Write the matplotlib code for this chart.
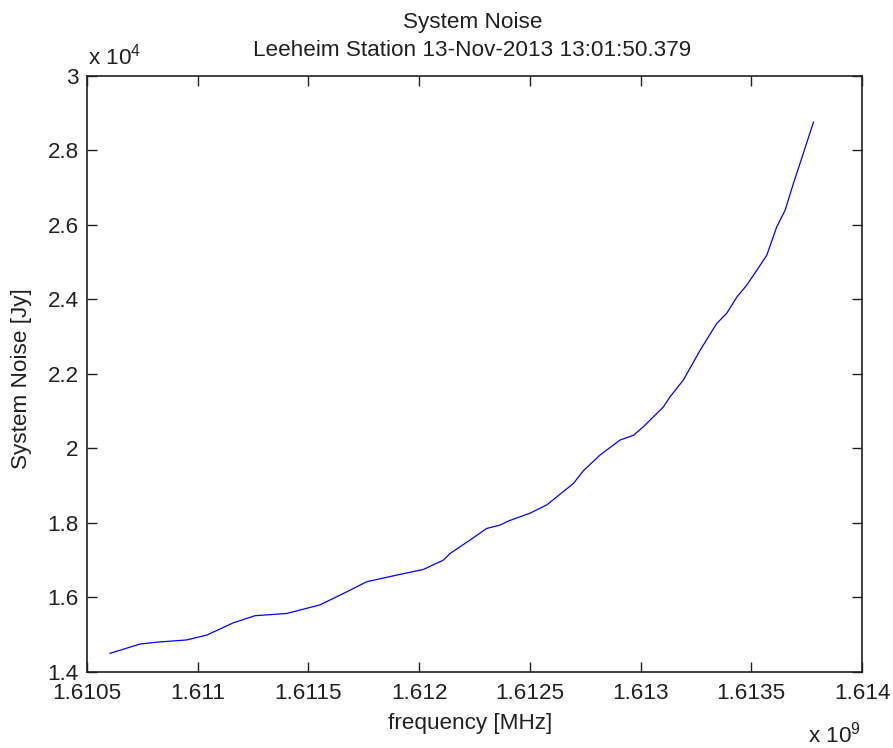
import matplotlib
matplotlib.use("Agg")
import matplotlib.pyplot as plt
from matplotlib.ticker import FuncFormatter, MultipleLocator

# data (frequency in units of 1e9 Hz, noise in units of 1e4 Jy)
freq_e9 = [1.610604, 1.610739, 1.610815, 1.610950, 1.611041, 1.611161, 1.611259,
           1.611402, 1.611552, 1.611673, 1.611763, 1.611899, 1.612019, 1.612109,
           1.612140, 1.612230, 1.612305, 1.612365, 1.612403, 1.612501, 1.612576,
           1.612622, 1.612697, 1.612742, 1.612817, 1.612907, 1.612968, 1.613013,
           1.613103, 1.613133, 1.613193, 1.613269, 1.613344, 1.613389, 1.613435,
           1.613480, 1.613540, 1.613570, 1.613615, 1.613653, 1.613690, 1.613720,
           1.613781]
noise_e4 = [1.450, 1.475, 1.480, 1.486, 1.499, 1.532, 1.551,
            1.557, 1.580, 1.615, 1.642, 1.660, 1.675, 1.700,
            1.718, 1.754, 1.785, 1.794, 1.805, 1.826, 1.848,
            1.870, 1.906, 1.940, 1.982, 2.022, 2.035, 2.058,
            2.111, 2.138, 2.183, 2.263, 2.335, 2.362, 2.406,
            2.438, 2.491, 2.518, 2.594, 2.639, 2.710, 2.764,
            2.875]

title_lines = ["System Noise", "Leeheim Station 13-Nov-2013 13:01:50.379"]
xlabel = "frequency [MHz]"
ylabel = "System Noise [Jy]"

freq = [f * 1e9 for f in freq_e9]
noise = [n * 1e4 for n in noise_e4]

plt.rcParams['font.family'] = ['Liberation Sans', 'DejaVu Sans']
plt.rcParams['mathtext.fontset'] = 'custom'
plt.rcParams['mathtext.rm'] = 'Liberation Sans'
plt.rcParams['mathtext.it'] = 'Liberation Sans'
plt.rcParams['mathtext.bf'] = 'Liberation Sans'
FS = 16.2
TXT = '#202020'

W, H = 893, 748
fig = plt.figure(figsize=(W / 100, H / 100), dpi=100)
ax = fig.add_axes([87 / W, (H - 672) / H, 775 / W, 596.5 / H])
ax.plot(freq, noise, color=(0, 0, 1), lw=0.9)

ax.set_xlim(1.6105e9, 1.614e9)
ax.set_ylim(1.4e4, 3.0e4)
ax.xaxis.set_major_locator(MultipleLocator(0.0005e9))
ax.yaxis.set_major_locator(MultipleLocator(0.2e4))
ax.xaxis.set_major_formatter(FuncFormatter(lambda v, p: ('%.4f' % (v / 1e9)).rstrip('0').rstrip('.')))
ax.yaxis.set_major_formatter(FuncFormatter(lambda v, p: ('%.1f' % (v / 1e4)).rstrip('0').rstrip('.')))
ax.tick_params(direction='in', length=7, width=1, top=True, right=True,
               labelsize=FS, labelcolor=TXT, color='#202020')
ax.tick_params(axis='y', pad=6)
ax.tick_params(axis='x', pad=8)
for s in ax.spines.values():
    s.set_linewidth(1.2)
    s.set_color('#202020')


def px(x, y):
    return x / W, 1 - y / H


fig.text(*px(472.5, 28), title_lines[0], fontsize=FS, ha='center', va='baseline', color=TXT)
fig.text(*px(472.5, 56), title_lines[1], fontsize=FS, ha='center', va='baseline', color=TXT)
fig.text(*px(470, 729), xlabel, fontsize=FS, ha='center', va='baseline', color=TXT)
fig.text(*px(27, 379), ylabel, fontsize=FS, ha='center', va='baseline', rotation=90,
         rotation_mode='anchor', color=TXT)

fig.text(*px(88, 64), r"x 10$^{4}$", fontsize=FS, ha='left', va='baseline', color=TXT)
fig.text(*px(808, 743), r"x 10$^{9}$", fontsize=FS, ha='left', va='baseline', color=TXT)

fig.savefig("out.png", dpi=100)
